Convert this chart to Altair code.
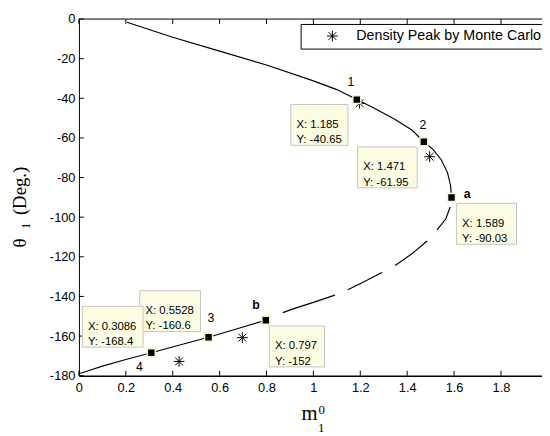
import altair as alt
import pandas as pd

# ---------------- data ----------------
top_x = [0.205, 0.40, 0.60, 0.80, 1.00, 1.10, 1.185, 1.26, 1.345, 1.42, 1.471, 1.51, 1.545, 1.572, 1.585, 1.589]
top_y = [-1.6, -9.2, -16.2, -23.2, -31.2, -35.6, -40.65, -45.0, -50.5, -56.0, -61.95, -65.8, -71.0, -77.5, -84.0, -90.03]

dash_x = [1.589, 1.583, 1.565, 1.527, 1.485, 1.42, 1.345, 1.29, 1.21, 1.14, 1.085, 1.0, 0.92, 0.854, 0.797]
dash_y = [-90.03, -95.0, -100.8, -106.5, -112.0, -118.5, -124.7, -128.0, -133.0, -137.0, -139.6, -143.0, -146.0, -148.8, -152.0]

bot_x = [0.797, 0.70, 0.5528, 0.45, 0.3086, 0.20, 0.10, 0.04, 0.0]
bot_y = [-152.0, -155.4, -160.6, -163.9, -168.4, -171.8, -175.2, -177.5, -179.0]

pt_x = [1.185, 1.471, 1.589, 0.797, 0.5528, 0.3086]
pt_y = [-40.65, -61.95, -90.03, -152.0, -160.6, -168.4]
pt_name = ["1", "2", "a", "b", "3", "4"]
pt_xtxt = ["1.185", "1.471", "1.589", "0.797", "0.5528", "0.3086"]
pt_ytxt = ["-40.65", "-61.95", "-90.03", "-152", "-160.6", "-168.4"]

mc_x = [1.197, 1.496, 0.427, 0.697]
mc_y = [-42.5, -69.5, -172.8, -160.8]
mc_label = "Density Peak by Monte Carlo"

x_ticks = [0, 0.2, 0.4, 0.6, 0.8, 1, 1.2, 1.4, 1.6, 1.8]
y_ticks = [-180, -160, -140, -120, -100, -80, -60, -40, -20, 0]

# ---------------- layout (annotation placement, pixels) ----------------
W, H = 470, 362
name_dx = [-6, -1, 16, -10, 2.5, -12]
name_dy = [-18, -16.6, -3, -15.5, -19, 14.6]
name_bold = [False, False, True, True, False, False]
tip_dx = [-38, -37, 35.5, 31.6, -39, -39.2]
tip_dy = [25.7, 26, 26.8, 26.6, -26.5, -26.4]
tip_w = [58, 60.6, 61, 56, 61.6, 61.7]
TIP_H = 41.5
TIP_FILL = "#fcfce3"
TIP_EDGE = "#c4c4c4"
FONT = "Liberation Sans"
SERIF = "Liberation Serif"
AST = "M-1,0L1,0M0,-1L0,1M-0.72,-0.72L0.72,0.72M-0.72,0.72L0.72,-0.72"

xs = alt.Scale(domain=[0, 1.975], nice=False, zero=False)
ys = alt.Scale(domain=[-180, 0], nice=False, zero=False)

xaxis = alt.Axis(values=x_ticks, labelExpr="'' + datum.value", ticks=False, tickSize=0,
                 grid=False, title=None, labelFont=FONT, labelFontSize=13, labelColor="black",
                 domainColor="black", domainWidth=1.5, labelPadding=6, labelFlush=False,
                 labelOverlap=False)
yaxis = alt.Axis(values=y_ticks, labelExpr="'' + datum.value", ticks=False, tickSize=0,
                 grid=False, title=None, labelFont=FONT, labelFontSize=13, labelColor="black",
                 domainColor="black", domainWidth=1, labelPadding=4, labelFlush=False,
                 labelOverlap=False)


def X(f):
    return alt.X(f, type="quantitative", scale=xs, axis=xaxis)


def Y(f):
    return alt.Y(f, type="quantitative", scale=ys, axis=yaxis)


def seg(xv, yv):
    return pd.DataFrame({"x": xv, "y": yv, "o": list(range(len(xv)))})


one = pd.DataFrame({"k": [0]})
layers = []

# curve
layers.append(alt.Chart(seg(top_x, top_y)).mark_line(color="black", strokeWidth=1.2)
              .encode(x=X("x"), y=Y("y"), order="o:Q"))
layers.append(alt.Chart(seg(dash_x, dash_y)).mark_line(color="black", strokeWidth=1.2,
                                                      strokeDash=[27, 15, 41, 15, 39, 14, 56, 25],
                                                      strokeDashOffset=222)
              .encode(x=X("x"), y=Y("y"), order="o:Q"))
layers.append(alt.Chart(seg(bot_x, bot_y)).mark_line(color="black", strokeWidth=1.2)
              .encode(x=X("x"), y=Y("y"), order="o:Q"))

# inward ticks and top border
xt = pd.DataFrame({"v": x_ticks})
yt = pd.DataFrame({"v": y_ticks})
layers.append(alt.Chart(xt).mark_rule(color="black", strokeWidth=1)
              .encode(x=X("v"), y=alt.value(H), y2=alt.value(H - 5)))
layers.append(alt.Chart(xt).mark_rule(color="black", strokeWidth=1)
              .encode(x=X("v"), y=alt.value(0), y2=alt.value(5)))
layers.append(alt.Chart(yt).mark_rule(color="black", strokeWidth=1)
              .encode(y=Y("v"), x=alt.value(0), x2=alt.value(5)))
layers.append(alt.Chart(one).mark_rule(color="black", strokeWidth=1)
              .encode(x=alt.value(0), x2=alt.value(W), y=alt.value(0)))

# Monte Carlo asterisks with legend
mc = pd.DataFrame({"x": mc_x, "y": mc_y, "s": [mc_label] * len(mc_x)})
layers.append(alt.Chart(mc).mark_point(filled=False, color="black", strokeWidth=1, size=121, opacity=1)
              .encode(x=X("x"), y=Y("y"),
                      shape=alt.Shape("s:N", scale=alt.Scale(range=[AST]),
                                      legend=alt.Legend(title=None, orient="none", legendX=225, legendY=5,
                                                        strokeColor="black", fillColor="white",
                                                        padding=5, symbolOffset=20, labelOffset=17,
                                                        labelFont=FONT, labelFontSize=14.5, labelColor="black",
                                                        labelLimit=0, symbolSize=121,
                                                        symbolStrokeColor="black", symbolStrokeWidth=1,
                                                        symbolFillColor="transparent"))))

# data points
pts = pd.DataFrame({"x": pt_x, "y": pt_y, "name": pt_name,
                    "tip": [f"X: {a}\nY: {b}" for a, b in zip(pt_xtxt, pt_ytxt)]})
layers.append(alt.Chart(pts).mark_point(shape="square", filled=True, fill="black", stroke="#f4f4c4",
                                        strokeWidth=1.5, size=64, opacity=1)
              .encode(x=X("x"), y=Y("y")))

for i in range(len(pt_x)):
    d = pts.iloc[[i]]
    w = tip_w[i]
    hh = TIP_H / w
    path = f"M-1,{-hh:.4f}L1,{-hh:.4f}L1,{hh:.4f}L-1,{hh:.4f}Z"
    layers.append(alt.Chart(d).mark_point(shape=path, size=w * w, filled=True, fill=TIP_FILL,
                                          stroke=TIP_EDGE, strokeWidth=1, opacity=1,
                                          xOffset=tip_dx[i], yOffset=tip_dy[i])
                  .encode(x=X("x"), y=Y("y")))
    layers.append(alt.Chart(d).mark_text(align="left", baseline="middle", dx=tip_dx[i] - w / 2 + 5.7,
                                         dy=tip_dy[i], lineBreak="\n", lineHeight=15.5, font=FONT,
                                         fontSize=11.5, color="black")
                  .encode(x=X("x"), y=Y("y"), text="tip:N"))
    layers.append(alt.Chart(d).mark_text(align="center", baseline="middle", dx=name_dx[i], dy=name_dy[i],
                                         font=FONT, fontSize=12.5, color="black",
                                         fontWeight="bold" if name_bold[i] else "normal")
                  .encode(x=X("x"), y=Y("y"), text="name:N"))

# axis titles (stacked sub/superscripts)
layers.append(alt.Chart(one).mark_text(text="m", font=SERIF, fontSize=21, align="center",
                                       baseline="alphabetic", color="black")
              .encode(x=alt.value(234), y=alt.value(407)))
layers.append(alt.Chart(one).mark_text(text="0", font=SERIF, fontSize=13, align="center",
                                       baseline="alphabetic", color="black")
              .encode(x=alt.value(246.5), y=alt.value(401)))
layers.append(alt.Chart(one).mark_text(text="1", font=SERIF, fontSize=13, align="center",
                                       baseline="alphabetic", color="black")
              .encode(x=alt.value(246), y=alt.value(419)))
layers.append(alt.Chart(one).mark_text(text="θ", font=SERIF, fontSize=19, align="left", angle=270,
                                       baseline="alphabetic", color="black")
              .encode(x=alt.value(-54), y=alt.value(232)))
layers.append(alt.Chart(one).mark_text(text="1", font=SERIF, fontSize=13, align="left", angle=270,
                                       baseline="alphabetic", color="black")
              .encode(x=alt.value(-50), y=alt.value(213)))
layers.append(alt.Chart(one).mark_text(text="(Deg.)", font=SERIF, fontSize=19, align="left", angle=270,
                                       baseline="alphabetic", color="black")
              .encode(x=alt.value(-54), y=alt.value(199)))

chart = (alt.layer(*layers)
         .properties(width=W, height=H, background="white",
                     padding={"left": 72, "top": 8, "right": 0, "bottom": 58},
                     autosize=alt.AutoSizeParams(type="none"))
         .configure_view(stroke=None))

chart.save("out.html", embed_options={"renderer": "svg", "actions": False})
